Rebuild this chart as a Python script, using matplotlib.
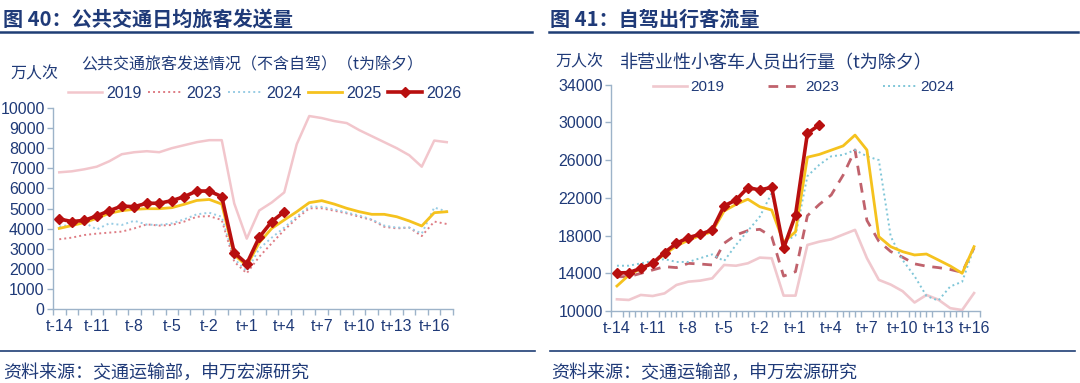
import numpy as np
import matplotlib
matplotlib.use("Agg")
import matplotlib.pyplot as plt
from matplotlib.lines import Line2D

CJK = ['Noto Sans CJK SC', 'DejaVu Sans']
LAT = ['Liberation Sans', 'DejaVu Sans']
NAVY = '#1F3A78'
SPINE = '#9DB3C9'

# ---------------- data: left chart (公共交通) ----------------
left_cats = [f"t-{k}" for k in range(14, 0, -1)] + ["t"] + [f"t+{k}" for k in range(1, 18)]
left_2019 = [6800, 6850, 6950, 7080, 7350, 7700, 7800, 7850, 7800, 8000, 8150, 8300, 8400, 8400,
             5250, 3500, 4900, 5300, 5800, 8200, 9600, 9500, 9350, 9250, 8900, 8600, 8300, 8000,
             7650, 7080, 8380, 8300]
left_2023 = [3470, 3550, 3680, 3750, 3800, 3850, 4010, 4210, 4150, 4180, 4350, 4590, 4620, 4430,
             2350, 1780, 2600, 3270, 3930, 4510, 5010, 5010, 4890, 4760, 4590, 4430, 4090, 4010,
             4050, 3630, 4350, 4230]
left_2024 = [4100, 4200, 4300, 3960, 4260, 4180, 4390, 4200, 4180, 4260, 4460, 4710, 4790, 4590,
             2500, 1880, 3000, 3550, 4050, 4600, 5100, 5080, 4950, 4800, 4650, 4450, 4150, 4050,
             4050, 3750, 5050, 4850]
left_2025 = [4010, 4150, 4300, 4510, 4760, 4890, 4960, 4990, 4990, 5040, 5210, 5400, 5450, 5220,
             2690, 2150, 3300, 4010, 4430, 4840, 5290, 5390, 5220, 5010, 4840, 4710, 4710, 4590,
             4380, 4130, 4790, 4840]
left_2026 = [4480, 4350, 4410, 4630, 4890, 5120, 5090, 5260, 5260, 5390, 5590, 5870, 5870, 5590,
             2800, 2250, 3570, 4350, 4840]
left_yticks = [0, 1000, 2000, 3000, 4000, 5000, 6000, 7000, 8000, 9000, 10000]

# ---------------- data: right chart (自驾) ----------------
right_cats = [f"t-{k}" for k in range(14, 0, -1)] + ["t"] + [f"t+{k}" for k in range(1, 17)]
right_2019 = [11240, 11170, 11700, 11590, 11870, 12760, 13110, 13220, 13460, 14880, 14800, 15060,
              15660, 15590, 11630, 11630, 17000, 17350, 17600, 18100, 18600, 15600, 13300, 12800,
              12100, 10900, 11700, 11200, 10300, 10100, 11900]
right_2023 = [13640, 13640, 13990, 14350, 14700, 14600, 15050, 14980, 14880, 17180, 18060, 18520,
              18660, 17880, 13700, 14170, 20100, 21300, 22300, 24400, 27070, 19600, 17400, 16300,
              15700, 15000, 14750, 14600, 14400, 14100, 16700]
right_2024 = [14800, 14800, 15050, 15300, 15500, 15200, 15200, 15600, 16000, 15300, 17000, 18500,
              20000, 22500, 17300, 18000, 24300, 25500, 26400, 26550, 27070, 26400, 26000, 17900,
              15400, 13700, 11600, 11100, 12600, 13100, 16700]
right_2025 = [12650, 13800, 14500, 15100, 16000, 16900, 17500, 18000, 18400, 20600, 21300, 21850,
              21050, 20700, 17300, 18400, 26300, 26600, 27050, 27500, 28650, 27070, 17880, 16820,
              16290, 15940, 16040, 15410, 14770, 14000, 16820]
right_2026 = [14030, 14070, 14520, 15060, 16190, 17180, 17780, 18130, 18590, 21140, 21770, 23080,
              22830, 23110, 16650, 20180, 28840, 29720]
right_yticks = [10000, 14000, 18000, 22000, 26000, 30000, 34000]

xlabels_shown = ["t-14", "t-11", "t-8", "t-5", "t-2", "t+1", "t+4", "t+7", "t+10", "t+13", "t+16"]

W, H = 1080, 383
fig = plt.figure(figsize=(W / 100, H / 100), dpi=100)
fig.patch.set_facecolor('white')


def fx(px):
    return px / W


def fy(py):
    return 1 - py / H


def style_axes(ax, cats, yticks, ylim, minor_step, tick_fs):
    n = len(cats)
    x = np.arange(n)
    ax.set_xlim(-0.5, n - 0.5)
    ax.set_ylim(*ylim)
    for s in ['top', 'right']:
        ax.spines[s].set_visible(False)
    for s in ['left', 'bottom']:
        ax.spines[s].set_color(SPINE)
        ax.spines[s].set_linewidth(1.0)
    pos = [cats.index(l) for l in xlabels_shown]
    ax.set_xticks(pos)
    ax.set_xticklabels(xlabels_shown)
    ax.set_xticks(np.arange(-0.5, n - 0.5 + 1e-6, minor_step), minor=True)
    ax.tick_params(axis='x', which='major', length=0, pad=7, labelsize=tick_fs, labelcolor=NAVY)
    ax.tick_params(axis='x', which='minor', length=4, color=SPINE, width=1.0)
    ax.set_yticks(yticks)
    ax.tick_params(axis='y', which='major', length=4, color=SPINE, width=1.0, pad=2,
                   labelsize=tick_fs, labelcolor=NAVY)
    for lab in ax.get_xticklabels() + ax.get_yticklabels():
        lab.set_family(LAT)
    ax.set_facecolor('none')
    return x


# ---------------- left chart ----------------
axL = fig.add_axes([fx(53), fy(309), fx(453) - fx(53), fy(108) - fy(309)])
xL = style_axes(axL, left_cats, left_yticks, (0, 10000), 1.0, 11.5)
hL = []
hL += axL.plot(xL, left_2019, color='#F2C6CC', lw=1.8, label='2019')
hL += axL.plot(xL, left_2023, color='#DE7C84', lw=1.4, ls=(0, (1, 1.6)), label='2023')
hL += axL.plot(xL, left_2024, color='#98CCE4', lw=1.4, ls=(0, (1, 1.6)), label='2024')
hL += axL.plot(xL, left_2025, color='#F5C21E', lw=2.0, label='2025')
hL += axL.plot(xL[:len(left_2026)], left_2026, color='#B80F0F', lw=2.6, marker='D', ms=5,
               label='2026')
axL.legend(handles=hL, ncol=5, loc='center left', bbox_to_anchor=(fx(68), fy(93)),
           bbox_transform=fig.transFigure, frameon=False, prop={'family': LAT, 'size': 11.5},
           labelcolor=NAVY, handlelength=2.1, handletextpad=0.3, columnspacing=0.4,
           borderpad=0, borderaxespad=0)

# ---------------- right chart ----------------
axR = fig.add_axes([fx(611), fy(311), fx(980) - fx(611), fy(84.6) - fy(311)])
xR = style_axes(axR, right_cats, right_yticks, (10000, 34000), 0.5, 11.5)
hR = []
hR += axR.plot(xR, right_2019, color='#F0C8CE', lw=1.9, label='2019')
hR += axR.plot(xR, right_2023, color='#C0626C', lw=2.0, ls=(0, (3.5, 2.8)), label='2023')
hR += axR.plot(xR, right_2024, color='#7FC6D8', lw=1.4, ls=(0, (1, 1.6)), label='2024')
axR.plot(xR, right_2025, color='#F5C21E', lw=2.0, label='2025')
axR.plot(xR[:len(right_2026)], right_2026, color='#B80F0F', lw=2.6, marker='D', ms=5,
         label='2026')
axR.legend(handles=hR, ncol=3, loc='center left', bbox_to_anchor=(fx(653), fy(87)),
           bbox_transform=fig.transFigure, frameon=False, prop={'family': LAT, 'size': 11},
           labelcolor=NAVY, handlelength=2.2, handletextpad=0.25, columnspacing=2.85,
           borderpad=0, borderaxespad=0)

# ---------------- titles, notes and rules ----------------
fig.text(fx(3), fy(19), '图 40：公共交通日均旅客发送量', family=CJK, fontsize=14.5,
         fontweight='bold', color=NAVY, va='center', ha='left')
fig.text(fx(550), fy(19), '图 41：自驾出行客流量', family=CJK, fontsize=14.5,
         fontweight='bold', color=NAVY, va='center', ha='left')
for x0, x1 in [(0, 532), (549, 1078)]:
    fig.add_artist(Line2D([fx(x0), fx(x1)], [fy(32), fy(32)], transform=fig.transFigure,
                          color='#1F3E75', lw=1.8))
for x0, x1 in [(0, 535), (550, 1075)]:
    fig.add_artist(Line2D([fx(x0), fx(x1)], [fy(351), fy(351)], transform=fig.transFigure,
                          color='#1F3E75', lw=1.2))

fig.text(fx(10), fy(74), '万人次', family=CJK, fontsize=11.5, color=NAVY, va='center')
fig.text(fx(81), fy(65), '公共交通旅客发送情况（不含自驾）（t为除夕）', family=CJK,
         fontsize=11.5, color=NAVY, va='center')
fig.text(fx(555), fy(62), '万人次', family=CJK, fontsize=11.5, color=NAVY, va='center')
fig.text(fx(620), fy(63), '非营业性小客车人员出行量（t为除夕）', family=CJK,
         fontsize=13, color=NAVY, va='center')

fig.text(fx(3), fy(373), '资料来源：交通运输部，申万宏源研究', family=CJK, fontsize=13,
         color=NAVY, va='center')
fig.text(fx(551), fy(373), '资料来源：交通运输部，申万宏源研究', family=CJK, fontsize=13,
         color=NAVY, va='center')

fig.savefig('out.png', dpi=100, facecolor='white')
